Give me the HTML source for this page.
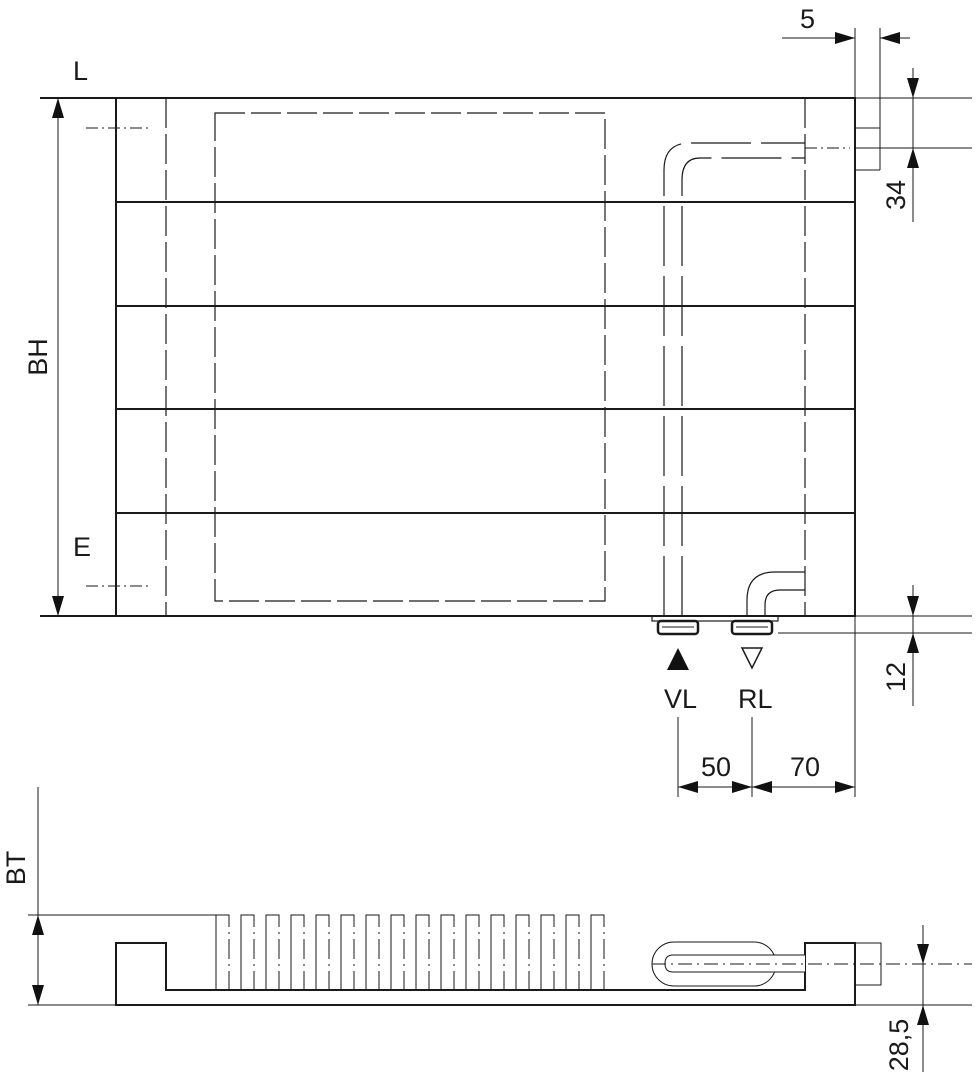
<!DOCTYPE html>
<html><head><style>body{margin:0;background:#fff}svg{display:block}text{font-family:"Liberation Sans",sans-serif;fill:#1a1a1a}</style></head><body>
<svg width="976" height="1080" viewBox="0 0 976 1080" xmlns="http://www.w3.org/2000/svg">
<g stroke="#1a1a1a" fill="none">
<g stroke-width="2">
<line x1="40" y1="98" x2="856" y2="98"/><line x1="40" y1="616" x2="856" y2="616"/>
<line x1="116" y1="98" x2="116" y2="616"/><line x1="855" y1="98" x2="855" y2="616"/>
<line x1="116" y1="202" x2="855" y2="202"/><line x1="116" y1="306" x2="855" y2="306"/>
<line x1="116" y1="409" x2="855" y2="409"/><line x1="116" y1="513" x2="855" y2="513"/>
</g>
<g stroke-width="1.2" stroke-dasharray="30 6">
<line x1="166" y1="98" x2="166" y2="616"/><line x1="805" y1="98" x2="805" y2="616"/>
<rect x="215" y="113" width="390" height="488"/>
</g>
<g stroke-width="1" stroke-dasharray="12 4 2 4">
<line x1="86" y1="128" x2="148" y2="128"/><line x1="86" y1="586" x2="148" y2="586"/>
<line x1="805" y1="148" x2="850" y2="148"/>
</g>
<g stroke-width="1.2">
<path d="M664,616V170Q664,143 690,143H805" stroke-dasharray="60 10"/>
<path d="M682,616V180Q682,158 700,158H805" stroke-dasharray="60 10"/>
<path d="M747,616V600Q747,572 775,572H805"/>
<path d="M765,616V605Q765,590 780,590H805"/>
<rect x="652" y="616" width="126" height="5"/>
</g>
<g stroke-width="2.5"><rect x="658" y="621" width="40" height="13" rx="3"/><rect x="732" y="621" width="40" height="13" rx="3"/></g>
<line x1="662" y1="627" x2="694" y2="627" stroke-width="1"/><line x1="736" y1="627" x2="768" y2="627" stroke-width="1"/>
<g stroke-width="1">
<line x1="855" y1="28" x2="855" y2="98"/><line x1="880" y1="28" x2="880" y2="170"/>
<line x1="855" y1="128" x2="880" y2="128"/><line x1="855" y1="170" x2="880" y2="170"/>
<line x1="782" y1="38" x2="855" y2="38"/><line x1="910" y1="38" x2="880" y2="38"/>
<line x1="855" y1="98" x2="972" y2="98"/><line x1="855" y1="148" x2="972" y2="148"/>
<line x1="913" y1="68" x2="913" y2="222"/>
<line x1="855" y1="616" x2="972" y2="616"/><line x1="778" y1="633" x2="972" y2="633"/>
<line x1="913" y1="585" x2="913" y2="706"/>
<line x1="678" y1="717" x2="678" y2="797"/><line x1="752" y1="717" x2="752" y2="797"/><line x1="855" y1="616" x2="855" y2="797"/>
<line x1="678" y1="787" x2="855" y2="787"/>
<line x1="58" y1="98" x2="58" y2="616"/>
</g>
<path d="M667,670L678,648L689,670z" fill="#111" stroke="none"/>
<path d="M742,648L762,648L752,668z" stroke-width="1.5"/>
<path d="M116,943H166V990H805V943H855V1005H116Z" stroke-width="2"/>
<g stroke-width="1">
<line x1="28" y1="1005" x2="116" y2="1005"/><line x1="855" y1="1005" x2="972" y2="1005"/>
<line x1="28" y1="915" x2="216" y2="915"/>
<line x1="38" y1="787" x2="38" y2="1005"/>
<rect x="855" y="943" width="26" height="42"/>
<rect x="652" y="942" width="124" height="44" rx="22"/>
<path d="M805,955H673Q665,955 665,963.5Q665,972 673,972H805" fill="#fff"/>
<line x1="652" y1="964" x2="972" y2="964" stroke-dasharray="14 5 2 5"/>
<line x1="923" y1="925" x2="923" y2="1072"/>
</g>
<g stroke-width="1" stroke-dasharray="100 5 2 5 20 5 2 5 20 5 2 5 30">
<path d="M216,990V915H229V990M241,990V915H254V990M266,990V915H279V990M291,990V915H304V990M316,990V915H329V990M341,990V915H354V990M366,990V915H379V990M391,990V915H404V990M416,990V915H429V990M441,990V915H454V990M466,990V915H479V990M491,990V915H504V990M516,990V915H529V990M541,990V915H554V990M566,990V915H579V990M591,990V915H604V990"/>
</g>
</g>
<g fill="#111">
<path d="M855,38l-20,-6v12z"/><path d="M880,38l20,-6v12z"/>
<path d="M913,98l-6,-20h12z"/><path d="M913,148l-6,20h12z"/>
<path d="M913,616l-6,-20h12z"/><path d="M913,633l-6,20h12z"/>
<path d="M678,787l20,-6v12z"/><path d="M752,787l-20,-6v12z"/>
<path d="M752,787l20,-6v12z"/><path d="M855,787l-20,-6v12z"/>
<path d="M58,98l-6,20h12z"/><path d="M58,616l-6,-20h12z"/>
<path d="M38,915l-6,20h12z"/><path d="M38,1005l-6,-20h12z"/>
<path d="M923,964l-6,-20h12z"/><path d="M923,1005l-6,20h12z"/>
</g>
<g font-size="27">
<text x="73" y="80">L</text><text x="73" y="556">E</text>
<text x="800" y="28">5</text>
<text x="664" y="708">VL</text><text x="738" y="708">RL</text>
<text x="701" y="776">50</text><text x="790" y="776">70</text>
<text transform="translate(47,357) rotate(-90)" text-anchor="middle">BH</text>
<text transform="translate(905,195) rotate(-90)" text-anchor="middle">34</text>
<text transform="translate(905,677) rotate(-90)" text-anchor="middle">12</text>
<text transform="translate(25,868) rotate(-90)" text-anchor="middle">BT</text>
<text transform="translate(908,1045) rotate(-90)" text-anchor="middle">28,5</text>
</g>
</svg>
</body></html>
